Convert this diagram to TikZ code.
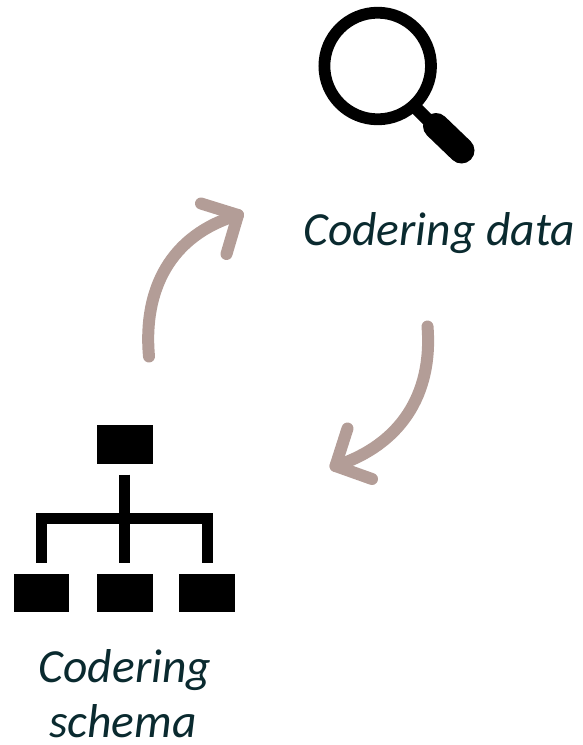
\documentclass[tikz,border=0pt]{standalone}
\usepackage{fontspec}
\setmainfont{Carlito}
\definecolor{arrowtaupe}{HTML}{B39D97}
\definecolor{labelteal}{HTML}{0A2A2F}
\tikzset{
  cyclearrow/.style={draw=arrowtaupe,line width=12pt,line cap=round,line join=round},
  treebox/.style={fill=black,draw=none,minimum width=55.5pt,minimum height=38.8pt,inner sep=0pt,outer sep=0pt},
  treeline/.style={draw=black,line width=10.8pt},
  lbl/.style={font=\itshape\fontsize{47.5}{56}\selectfont,text=labelteal,inner sep=0pt,outer sep=0pt,align=center,anchor=base}
}
\begin{document}
\begin{tikzpicture}[x=1pt,y=-1pt]
\useasboundingbox (0,0) rectangle (582,745);
% magnifier
\draw[line width=11.8pt,black] (377.7,66) circle (53.3);
\draw[line width=13pt,black] (415,107) -- (436,128);
\draw[line width=26pt,black,line cap=round] (436,126) -- (461.5,150.5);
% labels
\node[lbl] (data) at (439,245) {Codering data};
\node[lbl] (schemaA) at (125,682) {Codering};
\node[lbl] (schemaB) at (123,737) {schema};
% arrows
\coordinate (a1s) at (149,356.5);
\coordinate (a1t) at (238,215);
\coordinate (a1u) at (201,203.5);
\coordinate (a1v) at (226.5,254);
\draw[cyclearrow] (a1s) .. controls (143,290) and (170,235) .. (a1t);
\draw[cyclearrow] (a1u) -- (a1t) -- (a1v);
\coordinate (a2s) at (427.5,326.5);
\coordinate (a2t) at (335.5,466);
\coordinate (a2u) at (347.5,428.5);
\coordinate (a2v) at (372,479);
\draw[cyclearrow] (a2s) .. controls (433,395) and (400,445) .. (a2t);
\draw[cyclearrow] (a2u) -- (a2t) -- (a2v);
% tree
\node[treebox] (top) at (125,444.5) {};
\node[treebox] (bl) at (41.7,593) {};
\node[treebox] (bm) at (125,593) {};
\node[treebox] (br) at (207,593) {};
\draw[treeline] (124.6,474.5) -- (124.6,562.7);
\draw[treeline] (41.5,562.7) -- (41.5,518.8) -- (207.3,518.8) -- (207.3,562.7);
\end{tikzpicture}
\end{document}
